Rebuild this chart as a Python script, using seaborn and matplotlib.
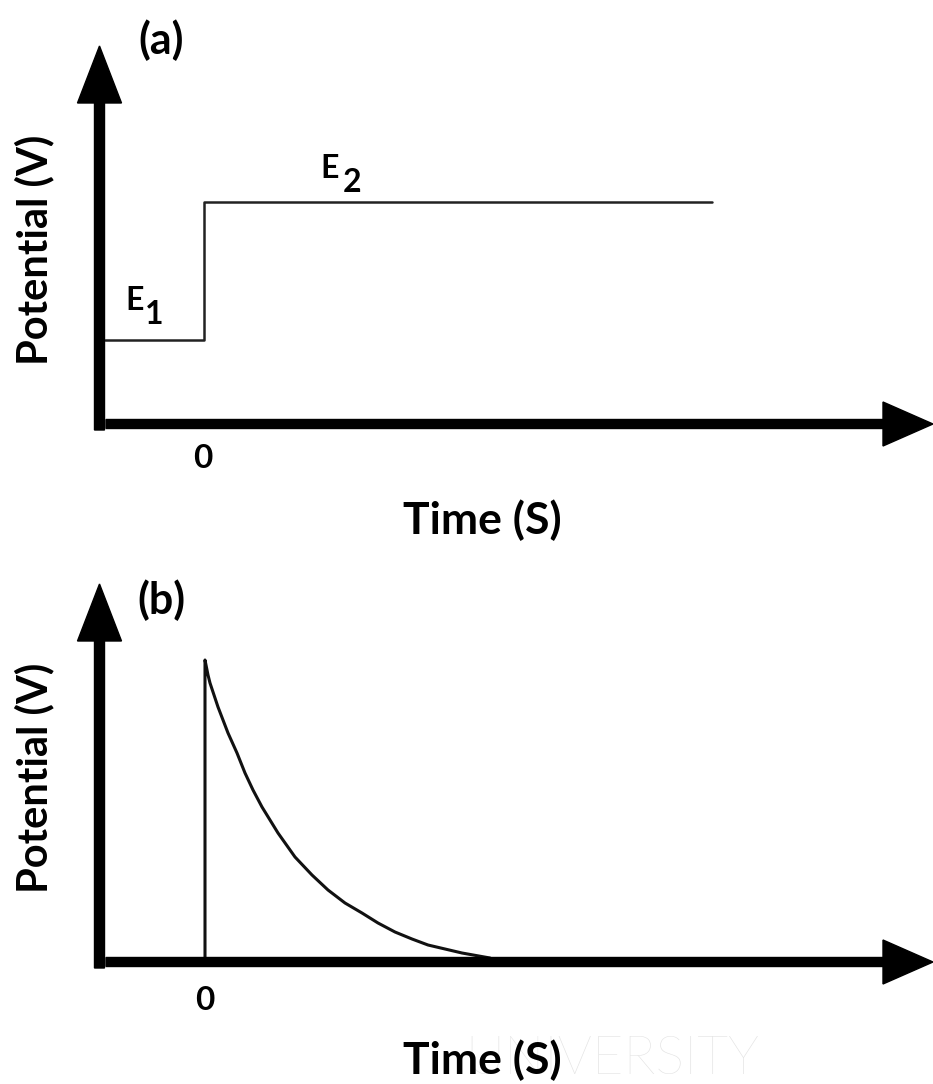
import matplotlib
matplotlib.use("Agg")
import matplotlib.pyplot as plt
import seaborn as sns
import pandas as pd

sns.set_theme(style="white")
plt.rcParams['font.family'] = ['Lato', 'DejaVu Sans']

# ---- data (schematic) ----
time_a = [-0.99, 0.0, 0.0, 5.08]
potential_a = [0.84, 0.84, 2.22, 2.22]

time_b = [0.0, 0.0, 0.03, 0.05, 0.13, 0.23, 0.32, 0.40, 0.48, 0.57, 0.73, 0.90,
          1.07, 1.23, 1.40, 1.57, 1.73, 1.90, 2.07, 2.23, 2.40, 2.57, 2.85]
signal_b = [0.0, 3.02, 2.87, 2.79, 2.55, 2.29, 2.09, 1.89, 1.72, 1.55, 1.29, 1.05,
            0.87, 0.72, 0.59, 0.49, 0.39, 0.30, 0.23, 0.17, 0.13, 0.09, 0.04]

panel_labels = ["(a)", "(b)"]
x_label = "Time (S)"
y_label = "Potential (V)"
tick_zero = "0"
step_labels = [("E", "1"), ("E", "2")]
watermark = "UNIVERSITY"

W, H = 933, 1084
fig = plt.figure(figsize=(W / 100, H / 100), dpi=100)
fig.patch.set_facecolor("white")

# axes (a): pixel rows 0..540, axes (b): 540..1084
ax_a = fig.add_axes([0, 1 - 540 / H, 1, 540 / H])
ax_b = fig.add_axes([0, 0, 1, 544 / H])

# pixel -> data maps (layout only)
def pa(x, y):
    return (x - 204) / 100, (424 - y) / 100

def pb(x, y):
    return (x - 205) / 100, (962 - y) / 100

ax_a.set_xlim(pa(0, 0)[0], pa(W, 0)[0])
ax_a.set_ylim(pa(0, 540)[1], pa(0, 0)[1])
ax_b.set_xlim(pb(0, 0)[0], pb(W, 0)[0])
ax_b.set_ylim(pb(0, 1084)[1], pb(0, 540)[1])

for ax in (ax_a, ax_b):
    ax.axis("off")

df_a = pd.DataFrame({"time": time_a, "potential": potential_a})
df_b = pd.DataFrame({"time": time_b, "signal": signal_b})

sns.lineplot(data=df_a, x="time", y="potential", ax=ax_a, sort=False,
             estimator=None, color="#222222", lw=1.8)
sns.lineplot(data=df_b, x="time", y="signal", ax=ax_b, sort=False,
             estimator=None, color="#111111", lw=2.2)

def axis_arrows(ax, p):
    x0, y0 = p(99.5, 430)
    _, ytip = p(0, 46)
    ax.arrow(x0, y0, 0, ytip - y0, width=0.10, head_width=0.44, head_length=0.57,
             length_includes_head=True, fc="black", ec="black", zorder=5)
    hx0, hy0 = p(106, 424)
    htip, _ = p(933, 0)
    ax.arrow(hx0, hy0, htip - hx0, 0, width=0.09, head_width=0.44, head_length=0.50,
             length_includes_head=True, fc="black", ec="black", zorder=5)

axis_arrows(ax_a, pa)
axis_arrows(ax_b, lambda x, y: pb(x, y + 538))

tkw = dict(color="black", fontweight="bold", ha="center", va="center")

# panel a texts
ax_a.text(*pa(161, 40), panel_labels[0], fontsize=31, **tkw)
ax_a.text(*pa(34, 250), y_label, fontsize=30, rotation=90, **tkw)
ax_a.text(*pa(482, 520), x_label, fontsize=32, **tkw)
ax_a.text(*pa(203, 458), tick_zero, fontsize=24, **tkw)
ax_a.text(*pa(135, 300), step_labels[0][0], fontsize=23, **tkw)
ax_a.text(*pa(154, 315), step_labels[0][1], fontsize=23, **tkw)
ax_a.text(*pa(330, 168), step_labels[1][0], fontsize=23, **tkw)
ax_a.text(*pa(352, 182), step_labels[1][1], fontsize=23, **tkw)

# panel b texts
ax_b.text(*pb(612, 1060), watermark, fontsize=39, color="#e2e2e2",
          ha="center", va="center", fontweight="light", zorder=0)
ax_b.text(*pb(161, 600), panel_labels[1], fontsize=31, **tkw)
ax_b.text(*pb(34, 778), y_label, fontsize=30, rotation=90, **tkw)
ax_b.text(*pb(482, 1060), x_label, fontsize=32, zorder=3, **tkw)
ax_b.text(*pb(205, 1000), tick_zero, fontsize=24, **tkw)

fig.savefig("out.png", dpi=100, facecolor="white")
